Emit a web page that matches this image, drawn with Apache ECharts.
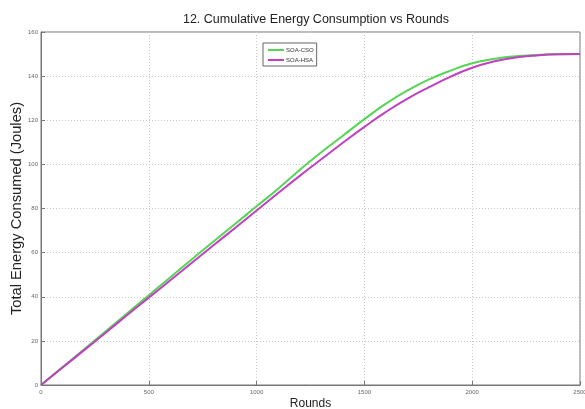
<!DOCTYPE html>
<html>
<head>
<meta charset="utf-8">
<script src="https://cdn.jsdelivr.net/npm/echarts@6/dist/echarts.min.js"></script>
<style>html,body{margin:0;padding:0;background:#fff;}#c{width:585px;height:409px;}</style>
</head>
<body>
<div id="c"></div>
<script>
const rounds = [0,100,200,300,400,500,600,700,800,900,1000,1100,1200,1300,1400,1500,1600,1700,1800,1900,2000,2100,2200,2300,2400,2500];
const soaCso = [0,8.1,16.2,24.3,32.5,40.7,48.8,57,65,73,81,89,97.5,105.5,113,120.5,127.5,133.5,138.5,142.5,145.8,147.8,149,149.6,149.9,150];
const soaHsa = [0,7.9,15.8,23.7,31.7,39.6,47.5,55.4,63.3,71.2,79.1,87,94.8,102.3,109.8,117,123.8,129.8,135,139.8,143.8,146.6,148.4,149.4,149.9,150];
const seriesNames = ['SOA-CSO','SOA-HSA'];
const titleText = '12. Cumulative Energy Consumption vs Rounds';
const xName = 'Rounds';
const yName = 'Total Energy Consumed (Joules)';

const font = "'Liberation Sans',Arial,sans-serif";
const chart = echarts.init(document.getElementById('c'), null, {renderer:'canvas'});
chart.setOption({
  animation: false,
  backgroundColor: '#fff',
  title: {
    text: titleText, left: 311, top: 8, textAlign: 'center',
    textStyle: {fontFamily: font, fontSize: 12.5, fontWeight: 'normal', color: '#222'}
  },
  legend: {
    data: seriesNames, orient: 'vertical', left: 263, top: 43,
    backgroundColor: '#fff', borderColor: '#666', borderWidth: 1,
    padding: [4, 3, 3, 5], itemGap: 4, itemWidth: 16, itemHeight: 2, icon: 'rect',
    textStyle: {fontFamily: font, fontSize: 6, color: '#333', padding: [0, 0, 0, -3]}
  },
  grid: {left: 41, right: 5, top: 32, bottom: 24, containLabel: false, outerBoundsMode: 'none',
         show: true, borderColor: '#777', borderWidth: 1, backgroundColor: '#fff'},
  xAxis: {
    type: 'value', min: 0, max: 2500, interval: 500,
    name: xName, nameLocation: 'middle', nameGap: 13, nameMoveOverlap: false,
    nameTextStyle: {fontFamily: font, fontSize: 12, color: '#222'},
    axisLine: {show: true, lineStyle: {color: '#777'}},
    axisTick: {show: true, inside: true, length: 4, lineStyle: {color: '#777'}},
    axisLabel: {fontFamily: font, fontSize: 6, color: '#666', margin: 4, formatter: v => String(v)},
    splitLine: {show: true, lineStyle: {color: '#c8c8c8', type: [1, 2]}}
  },
  yAxis: {
    type: 'value', min: 0, max: 160, interval: 20,
    name: yName, nameLocation: 'middle', nameGap: 17, nameRotate: 90, nameMoveOverlap: false,
    nameTextStyle: {fontFamily: font, fontSize: 14.7, color: '#222'},
    axisLine: {show: true, lineStyle: {color: '#777'}},
    axisTick: {show: true, inside: true, length: 4, lineStyle: {color: '#777'}},
    axisLabel: {fontFamily: font, fontSize: 6, color: '#666', margin: 3, formatter: v => String(v)},
    splitLine: {show: true, lineStyle: {color: '#c8c8c8', type: [1, 2]}}
  },
  series: [
    {name: seriesNames[0], type: 'line', smooth: true, showSymbol: false, symbol: 'none',
     data: rounds.map((r, i) => [r, soaCso[i]]),
     lineStyle: {color: '#55d455', width: 2}, itemStyle: {color: '#55d455'}},
    {name: seriesNames[1], type: 'line', smooth: true, showSymbol: false, symbol: 'none',
     data: rounds.map((r, i) => [r, soaHsa[i]]),
     lineStyle: {color: '#c040c0', width: 2}, itemStyle: {color: '#c040c0'}}
  ]
});
</script>
</body>
</html>
